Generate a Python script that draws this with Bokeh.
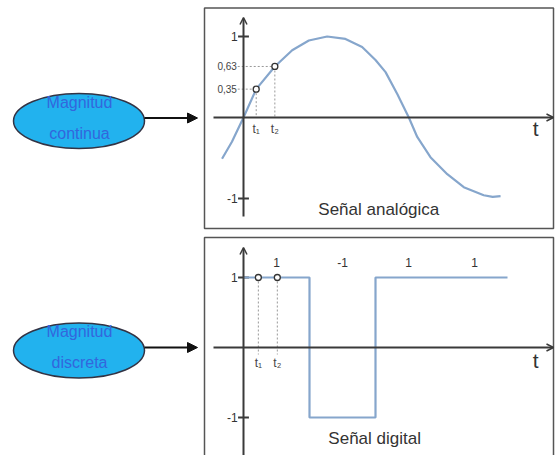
from bokeh.plotting import figure
from bokeh.models import Range1d, Arrow, NormalHead, OpenHead
from bokeh.core.properties import value
from bokeh.embed import file_html
from bokeh.resources import INLINE

# ---------------- data ----------------
# analog signal samples (time in ms, amplitude)
ana_t = [-1.3, -0.7, 0.0, 0.77, 1.9, 2.95, 3.96, 5.07, 6.18, 7.19, 8.0, 8.61, 9.32, 10.02,
         10.53, 11.33, 12.35, 13.35, 14.56, 15.1, 15.58]
ana_a = [-0.51, -0.30, 0.0, 0.35, 0.63, 0.83, 0.95, 1.0, 0.97, 0.87, 0.71, 0.56, 0.29, 0.0,
         -0.24, -0.49, -0.70, -0.86, -0.96, -0.98, -0.97]
ana_mark_t = [0.77, 1.9]
ana_mark_a = [0.35, 0.63]
ana_mark_lbl = ["0,35", "0,63"]

# digital signal: bit edges and levels
dig_edges = [0, 4, 8, 12, 16]
dig_levels = [1, -1, 1, 1, 1]
dig_bit_center = [2, 6, 10, 14]
dig_bit_lbl = ["1", "-1", "1", "1"]
dig_mark_t = [0.9, 2.05]
dig_mark_a = [1, 1]

t_lbl = ["t\u2081", "t\u2082"]
ellipse_lbl = [["Magnitud", "continua"], ["Magnitud", "discreta"]]
panel_titles = ["Señal analógica", "Señal digital"]

# ---------------- layout geometry (pixels) ----------------
W, H = 555, 455
X0, Y0 = 0, 0
T_ORIGIN_PX = 243.0
PX_PER_MS = 16.5
ANA_ZERO, ANA_UNIT = 117.0, 81.0
DIG_ZERO, DIG_UNIT = 347.0, 70.0

p = figure(width=W, height=H, output_backend="svg", toolbar_location=None,
           x_range=Range1d(X0, X0 + W), y_range=Range1d(Y0 + H, Y0),
           x_axis_type=None, y_axis_type=None, min_border=0,
           outline_line_color=None, background_fill_color="white")
p.grid.visible = False

p.extra_x_ranges = {"t": Range1d((X0 - T_ORIGIN_PX) / PX_PER_MS, (X0 + W - T_ORIGIN_PX) / PX_PER_MS)}
p.extra_y_ranges = {
    "ana": Range1d((ANA_ZERO - (Y0 + H)) / ANA_UNIT, (ANA_ZERO - Y0) / ANA_UNIT),
    "dig": Range1d((DIG_ZERO - (Y0 + H)) / DIG_UNIT, (DIG_ZERO - Y0) / DIG_UNIT),
}

FONT = value("Liberation Sans")
AX = "#3a3a3a"
SIG = "#86a6cc"

# panel frames
p.quad(left=[204, 204], right=[553, 553], top=[7.5, 237], bottom=[228, 470],
       fill_color=None, line_color="#555555", line_width=1.5)

# ellipses + arrows
for cy, lines in zip([120.5, 350.0], ellipse_lbl):
    p.ellipse(x=[78.5], y=[cy], width=131, height=55, fill_color="#22b2ee",
              line_color="#333344", line_width=1.5)
    p.text(x=[79, 79], y=[cy - 19, cy + 12], text=lines, text_font=FONT,
           text_font_size="16px", text_color="#3366dd", text_align="center",
           text_baseline="middle")
    p.add_layout(Arrow(end=NormalHead(size=10, fill_color="#111111", line_color="#111111"),
                       x_start=144, y_start=cy - 3, x_end=197, y_end=cy - 3,
                       line_width=2, line_color="#111111"))

# axes arrows for both panels
for yr, zero, t_y in [("ana", ANA_ZERO, -0.14), ("dig", DIG_ZERO, -0.19)]:
    top = 17 if yr == "ana" else 247
    bot = 216 if yr == "ana" else 460
    p.add_layout(Arrow(end=OpenHead(size=7, line_color=AX, line_width=1.5),
                       x_start=213, y_start=zero, x_end=553, y_end=zero,
                       line_color=AX, line_width=2))
    p.add_layout(Arrow(end=OpenHead(size=7, line_color=AX, line_width=1.5),
                       x_start=T_ORIGIN_PX, y_start=bot, x_end=T_ORIGIN_PX, y_end=top,
                       line_color=AX, line_width=2))
    # ticks at +-1
    p.segment(x0=[-0.33, -0.33], x1=[0.33, 0.33], y0=[1, -1], y1=[1, -1],
              x_range_name="t", y_range_name=yr, line_color=AX, line_width=2)
    p.text(x=[-0.35, -0.35], y=[1, -1], text=["1", "-1"], x_range_name="t", y_range_name=yr,
           text_font=FONT, text_font_size="12px", text_color="#333333",
           text_align="right", text_baseline="middle")
    # big t label
    p.text(x=[17.7], y=[t_y], text=["t"], x_range_name="t", y_range_name=yr,
           text_font=FONT, text_font_size="21px", text_color="#333333",
           text_align="center", text_baseline="middle")

# ---- analog panel ----
p.line(ana_t, ana_a, x_range_name="t", y_range_name="ana", line_color=SIG, line_width=2.2,
       line_join="round")
p.segment(x0=[-0.35] * 2, x1=ana_mark_t, y0=ana_mark_a, y1=ana_mark_a,
          x_range_name="t", y_range_name="ana", line_color="#999999", line_width=1, line_dash="2 2")
p.segment(x0=ana_mark_t, x1=ana_mark_t, y0=ana_mark_a, y1=[0, 0],
          x_range_name="t", y_range_name="ana", line_color="#999999", line_width=1, line_dash="2 2")
p.scatter(ana_mark_t, ana_mark_a, x_range_name="t", y_range_name="ana", marker="circle",
          size=6, fill_color="white", line_color="#333333", line_width=1.3)
p.text(x=[-0.4, -0.4], y=ana_mark_a, text=ana_mark_lbl, x_range_name="t", y_range_name="ana",
       text_font=FONT, text_font_size="10px", text_color="#444444",
       text_align="right", text_baseline="middle")
p.text(x=ana_mark_t, y=[-0.06, -0.06], text=t_lbl, x_range_name="t", y_range_name="ana",
       text_font=FONT, text_font_size="12px", text_color="#444444",
       text_align="center", text_baseline="top")
p.text(x=[8.2], y=[-1.14], text=[panel_titles[0]], x_range_name="t", y_range_name="ana",
       text_font=FONT, text_font_size="17px", text_color="#333333",
       text_align="center", text_baseline="middle")

# ---- digital panel ----
p.step(dig_edges, dig_levels, mode="after", x_range_name="t", y_range_name="dig",
       line_color=SIG, line_width=2.2)
p.segment(x0=dig_mark_t, x1=dig_mark_t, y0=dig_mark_a, y1=[-0.1, -0.1],
          x_range_name="t", y_range_name="dig", line_color="#999999", line_width=1, line_dash="2 2")
p.scatter(dig_mark_t, dig_mark_a, x_range_name="t", y_range_name="dig", marker="circle",
          size=6, fill_color="white", line_color="#333333", line_width=1.3)
p.text(x=dig_mark_t, y=[-0.12, -0.12], text=t_lbl, x_range_name="t", y_range_name="dig",
       text_font=FONT, text_font_size="12px", text_color="#444444",
       text_align="center", text_baseline="top")
p.text(x=dig_bit_center, y=[1.21] * 4, text=dig_bit_lbl, x_range_name="t", y_range_name="dig",
       text_font=FONT, text_font_size="12px", text_color="#333333",
       text_align="center", text_baseline="middle")
p.text(x=[7.95], y=[-1.3], text=[panel_titles[1]], x_range_name="t", y_range_name="dig",
       text_font=FONT, text_font_size="17px", text_color="#333333",
       text_align="center", text_baseline="middle")

open("out.html", "w").write(file_html(p, INLINE))
